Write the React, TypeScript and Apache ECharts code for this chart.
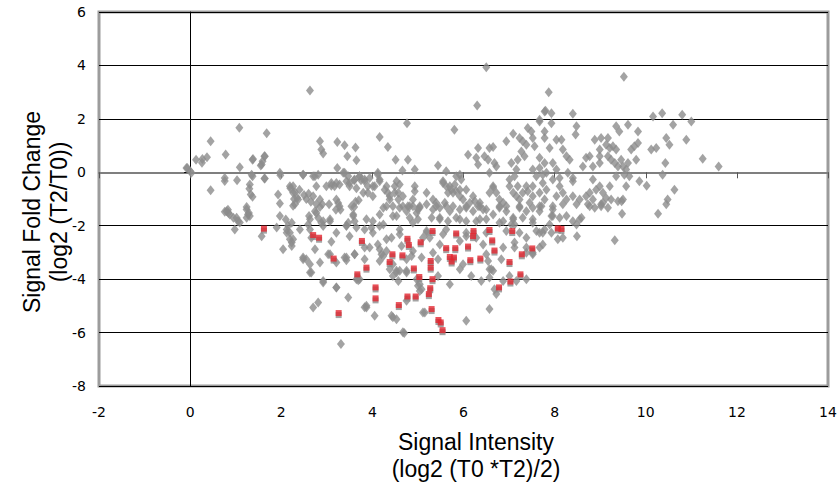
import React, { useEffect, useRef } from "react";
import * as echarts from "echarts";

const X_RANGE = [-2, 14];
const Y_RANGE = [-8, 6];
const TICK_STEP = 2;

const xTitle = "Signal Intensity\n(log2 (T0 *T2)/2)";
const yTitle = "Signal Fold Change\n(log2 (T2/T0))";

const grayPoints: number[][] = [
  [2.63,3.06],[1.08,1.67],[1.68,1.46],[0.45,1.16],[0.78,0.67],[0.13,0.47],[0.27,0.5],[0.37,0.56],[0.26,0.36],[1.38,0.5],[1.64,0.6],[1.59,0.41],[1.55,0.25],[1.09,0.19],[2.85,1.16],[2.88,0.85],[2.92,0.7],[3.23,1.13],[3.39,1.01],[3.63,0.93],[3.45,0.6],[3.65,0.45],[-0.06,0.16],[0.03,-0.02],[0.76,-0.21],[0.76,-0.33],[1.03,-0.3],[0.45,-0.67],[1.37,-0.15],[1.31,-0.46],[1.3,-0.62],[1.33,-0.83],[1.37,-0.92],[1.64,-0.23],[1.98,-0.11],[2.48,-0.09],[2.74,-0.15],[2.81,-0.09],[3.23,0.16],[3.36,-0.02],[3.47,-0.15],[3.5,-0.4],[2.2,-0.6],[2.4,-0.65],[2.5,-0.85],[2.55,-1.0],[2.35,-0.95],[2.6,-0.8],[1.93,-0.83],[1.97,-1.17],[2.7,-0.9],[2.65,-1.1],[2.9,-1.2],[3.05,-1.2],[2.85,-1.3],[3.25,-1.15],[3.2,-1.4],[3.3,-1.4],[3.1,-0.5],[3.21,-0.4],[3.28,-0.46],[3.6,-0.3],[3.65,-0.6],[3.75,-0.3],[3.63,-1.1],[3.6,-1.3],[3.7,-1.05],[1.24,-1.3],[0.83,-1.4],
  [0.8,-1.46],[0.87,-1.58],[1.02,-1.7],[1.05,-1.83],[1.09,-1.88],[1.24,-1.39],[1.27,-1.58],[1.24,-1.7],[0.98,-2.14],[1.35,-0.09],[1.37,0.47],[1.57,0.29],[1.63,0.6],[1.63,-0.23],[2.1,-1.77],[2.15,-2.0],[2.19,-2.26],[2.19,-2.51],[2.23,-2.76],[1.9,-2.07],[1.57,-2.39],[2.26,-0.52],[2.3,-0.75],[2.28,-1.0],[2.26,-1.25],[0,0.04],[-0.08,0.16],
  [0.84,-1.52],[0.76,-1.48],[0.95,-1.7],[1.31,-1.64],[1.29,-1.52],[2.04,-2.88],[2.3,-1.2],[2.61,-1.64],[2.59,-1.95],[2.63,-2.14],[2.66,-2.45],[2.74,-1.46],[2.77,-1.2],[2.81,-1.7],[2.88,-1.89],[2.92,-1.83],[3.07,-1.83],[3.1,-2.6],[3.03,-3.07],[2.74,-2.88],[2.48,-3.19],[2.55,-3.26],[2.63,-3.44],[2.66,-3.75],[2.85,-3.38],[3.21,-3.38],[3.39,-3.19],[3.43,-3.29],[3.47,-1.89],[3.5,-2.39],[3.43,-1.99],[3.58,-1.58],[3.54,-1.27],[3.61,-1.83],[3.65,-2.07],[3.61,-3.07],[3.69,-4.04],[2.92,-4.13],[3.21,-4.31],[3.47,-4.69],[2.81,-4.87],[2.7,-5.06],[3.31,-6.43],[3.83,-5.05],[2.12,-2.14],[2.23,-2.63],[2.23,-1.89],
  [6.5,3.93],[6.3,2.5],[4.76,1.84],[5.8,1.59],[4.16,1.32],[4.34,0.95],[4.51,0.47],[4.78,0.47],[4.66,0.07],[4.93,0.1],[5.44,0.25],[5.62,0.04],[5.84,-0.15],[5.92,-0.09],[5.95,-0.27],[6.1,0.66],[6.32,0.91],[6.28,0.54],[6.32,0.29],[6.46,0.6],[6.54,0.47],[6.57,0.91],[6.65,0.95],[6.72,0.22],[6.57,-0.02],[6.68,0.35],[6.94,1.16],[7.09,1.44],[7.23,1.28],[7.3,1.16],[7.38,1.03],[7.41,1.66],[7.49,1.53],[7.52,1.28],[7.56,0.97],[7.67,1.9],[7.78,2.28],[7.27,0.78],[7.19,0.47],[7.34,0.6],[7.05,0.35],[7.16,0.1],[7.52,0.1],[7.67,0.16],[7.74,-0.09],[3.72,-0.15],[3.83,-0.27],[3.94,-0.21],[3.8,-0.77],[3.9,-0.77],[4.01,-0.9],[4.05,-0.52],[4.12,-0.09],[4.16,-0.27],[4.27,-0.65],[4.34,-0.77],[4.38,-1.02],[4.31,-1.27],[4.53,-0.34],[4.6,-0.46],[4.49,-0.77],[4.57,-1.02],[4.67,-1.27],[4.82,-1.27],[4.93,-0.52],[4.93,-0.71],[5.04,-1.27],[5.4,-1.14],[5.55,-0.4],[5.62,-0.52],[5.66,-0.77],[5.73,-0.65],[5.81,-0.46],[5.84,-0.71],[5.92,-0.9],[5.59,-1.14],[5.77,-1.27],[6.06,-0.65],[6.14,-1.14],[6.25,-1.08],[6.32,-1.27],[6.65,-0.58],[6.72,-0.77],[6.87,-1.14],[6.79,-1.27],[7.01,-0.52],[7.12,-0.15],[7.19,-0.52],[7.16,-0.9],[7.3,-0.77],[7.41,-0.71],[7.52,-0.52],[7.6,-0.15],[7.67,-0.77],[7.78,-1.02],[7.45,-1.14],[7.23,-1.27],
  [9.52,3.58],[7.87,3.0],[7.8,2.3],[7.93,2.21],[7.93,1.84],[7.67,1.97],[8.4,2.19],[7.78,1.53],[7.78,1.28],[8.04,1.22],[8.15,1.22],[7.89,0.91],[8.48,1.72],[8.46,1.41],[7.67,0.54],[7.78,0.35],[7.82,-0.02],[7.96,0.35],[8.04,0.1],[8.11,-0.21],[8.18,0.85],[8.26,0.6],[8.33,0.47],[8.29,-0.02],[8.4,-0.21],[7.74,-0.4],[8.62,0.22],[8.69,0.54],[8.77,0.6],[8.84,0.22],[8.88,1.22],[9.02,1.28],[9.17,1.28],[8.99,0.85],[8.99,0.6],[9.13,1.03],[9.21,0.91],[9.28,0.97],[9.35,0.85],[9.17,0.6],[9.24,0.47],[9.32,0.35],[9.39,0.22],[9.46,0.47],[9.5,0.22],[9.57,0.1],[9.61,0.35],[9.68,0.85],[9.75,0.97],[9.83,1.1],[9.79,0.47],[9.35,-0.15],[9.53,-0.09],[9.64,-0.15],[8.99,0.35],[8.84,-0.27],[9.35,1.72],[9.42,1.53],[9.61,1.78],[9.83,1.53],[10.16,2.09],[10.36,2.21],[10.6,1.78],[11.0,1.9],[10.8,2.15],[10.45,1.28],[10.52,1.03],[10.89,1.22],[10.12,0.85],[10.23,0.91],[11.25,0.51],[11.6,0.22],[10.43,0.35],[10.37,-0.09],[9.86,-0.34],[10.02,-0.5],[9.57,-0.52],[10.63,-0.65],[10.48,-1.02],[10.45,-1.2],[8.04,-0.9],[8.18,-0.77],[8.26,-1.02],[8.4,-0.9],[8.11,-0.52],[8.4,-0.34],[8.55,-1.02],[8.69,-0.9],[8.77,-0.77],[8.84,-1.02],[8.91,-0.65],[8.99,-0.52],[9.06,-0.77],[9.13,-0.96],[9.21,-0.52],[9.24,-1.02],[9.02,-1.27],[8.73,-1.2],[9.39,-1.08],[9.5,-1.02],[7.71,-1.27],[7.96,-1.27],[9.06,-1.14],[9.47,-1.08],
  [7.96,-1.39],[7.93,-1.64],[8.11,-1.7],[8.26,-1.64],[8.18,-1.2],[8.4,-1.83],[8.48,-1.95],[8.55,-1.76],[8.59,-1.7],[8.48,-1.2],[7.89,-1.95],[7.93,-2.26],[8.07,-2.51],[8.18,-2.45],[8.49,-2.39],[9.32,-2.54],[8.77,-1.27],[8.88,-1.33],[9.02,-1.2],[9.17,-1.33],[9.48,-1.55],[10.27,-1.55],[7.67,-2.82],[7.67,-2.26],[7.78,-2.14],
  [4.24,-1.33],[4.45,-1.27],[4.6,-1.33],[4.75,-1.46],[4.89,-1.27],[5.0,-1.39],[5.19,-1.2],[5.33,-1.39],[5.48,-1.33],[5.62,-1.27],[5.7,-1.46],[5.92,-1.39],[6.06,-1.33],[6.21,-1.46],[6.36,-1.27],[6.5,-1.39],[6.65,-1.58],[6.79,-1.33],[6.94,-1.46],[7.09,-1.7],[7.23,-1.33],[7.38,-1.46],[7.52,-1.33],[7.67,-1.46],[4.16,-1.58],[4.01,-1.83],[4.24,-1.95],[4.53,-1.64],[4.82,-1.7],[5.0,-1.76],[5.3,-1.7],[5.48,-1.7],[5.66,-1.83],[5.84,-1.7],[6.06,-1.83],[6.28,-1.83],[6.5,-1.76],[6.87,-1.83],[7.05,-1.95],[7.3,-1.7],[7.52,-1.76],
  [3.83,-2.14],[3.98,-2.08],[3.94,-2.82],[4.12,-2.7],[4.2,-3.07],[4.31,-2.95],[4.42,-2.45],[4.6,-2.32],[4.64,-2.76],[4.89,-2.95],[5.11,-2.45],[5.19,-2.2],[5.26,-2.45],[5.48,-2.7],[5.55,-2.32],[5.92,-2.57],[6.06,-2.39],[6.28,-2.45],[6.43,-2.7],[6.5,-3.07],[6.65,-3.69],[6.87,-2.82],[6.94,-2.2],[7.12,-1.95],[7.38,-2.45],[7.38,-2.82],[7.52,-3.07],[7.6,-2.2],[7.74,-2.7],[3.83,-3.26],[4.16,-3.32],[4.45,-3.44],[4.6,-3.69],[4.75,-3.26],[4.86,-3.13],[5.08,-3.19],[5.44,-3.26],[5.99,-3.44],[6.54,-3.32],[6.61,-3.63],[6.83,-3.26],[7.12,-2.82],[5.7,-4.19],[6.39,-4.07],[6.57,-3.94],[6.87,-4.07],[7.16,-4.07],[7.38,-4.0],[6.72,-4.56],[6.68,-4.38],[3.87,-5.0],[4.05,-5.37],[4.45,-5.43],[4.53,-5.5],[5.15,-5.25],[6.06,-5.56],[6.57,-5.12],[4.67,-5.99],[4.97,-4.0],[5.04,-4.19],[5.08,-4.38],[4.45,-3.88],[4.53,-3.69],[3.72,-4.0],[4.75,-3.69],
  [1.97,-0.02],[2.19,-0.52],[2.26,-0.77],[2.37,-1.02],[2.48,-0.09],[2.7,-0.15],[2.77,-0.52],[2.85,-1.02],[2.99,-0.52],[3.1,-0.4],[3.17,-0.52],[3.21,-1.02],[3.28,-1.27],[3.39,-0.02],[3.43,-0.34],[3.5,-0.52],[3.61,-0.27],[3.72,-0.15],[3.83,-0.34],[3.9,-0.52],[4.01,-0.52],[4.12,-0.02],[4.16,-0.34],[4.31,-0.52],[4.38,-0.9],[4.49,-0.52],[4.57,-0.77],[4.67,-0.9],[4.78,-1.27],[4.89,-1.02],[4.97,-1.52],[5.04,-1.33],[5.19,-0.77],[5.33,-1.02],[5.4,-1.27],[5.55,-0.34],[5.7,-0.52],[5.77,-0.77],[5.92,-0.65],[5.99,-1.02],[6.06,-1.27],[6.21,-0.9],[6.36,-1.14],[6.43,-1.39],[6.57,-0.77],[6.65,-0.52],[6.79,-1.02],[6.94,-1.27],[7.01,-0.27],[7.09,-0.77],[7.23,-1.02],[7.38,-0.52],[7.52,-0.9],[7.67,-1.27],[7.82,-0.65],[7.96,-0.27],
  [1.97,-1.64],[2.12,-2.26],[2.26,-2.51],[2.41,-2.14],[2.63,-1.76],[2.77,-1.52],[2.92,-2.01],[3.07,-1.76],[3.21,-2.26],[3.43,-2.01],[3.58,-1.64],[3.87,-1.76],[4.01,-2.26],[4.16,-2.01],[4.31,-2.51],[4.45,-1.64],[4.6,-2.14],[4.89,-1.89],[5.19,-2.26],[5.48,-1.76],[5.62,-2.14],[5.92,-1.76],[6.06,-2.26],[6.36,-1.76],[6.5,-2.26],[6.79,-1.89],[7.09,-1.76],[7.23,-2.26],[7.52,-1.89],[7.74,-2.26],[7.96,-1.64],
  [2.48,-3.26],[2.63,-3.75],[2.92,-4.07],[3.07,-3.07],[3.21,-4.31],[3.43,-3.19],[3.61,-3.07],[3.65,-4.0],[3.83,-2.82],[3.87,-5.06],[4.16,-2.88],[4.24,-3.13],[4.38,-3.63],[4.42,-5.37],[4.53,-3.75],[4.57,-4.07],[4.75,-3.75],[4.75,-4.81],[5.0,-4.25],[5.04,-4.44],[5.11,-5.25],[5.33,-3.01],[5.44,-3.88],[5.92,-3.63],[6.17,-3.88],[6.57,-3.63],[7.12,-2.63],[7.38,-3.01],[7.52,-3.01],[4.7,-6.02],[7.01,-3.88]
];

const redPoints: number[][] = [
  [5.32,-2.2],[4.77,-2.49],[4.8,-2.72],[5.06,-2.62],[3.77,-2.57],[4.44,-3.07],[4.66,-3.11],[4.38,-3.36],[3.87,-3.57],[3.67,-3.82],[4.91,-3.6],[5.28,-3.32],[5.28,-3.57],[5.03,-3.92],[5.32,-4.0],[5.27,-4.34],[5.24,-4.56],[4.07,-4.31],[4.07,-4.72],[4.77,-4.65],[4.95,-4.65],[4.58,-4.97],[5.3,-5.12],[5.45,-5.53],[5.5,-5.62],[5.54,-5.91],[5.84,-2.29],[6.22,-2.2],[6.21,-2.39],[6.57,-2.16],[7.07,-2.2],[5.62,-2.84],[5.82,-2.84],[6.1,-2.78],[6.63,-2.55],[6.68,-2.93],[5.7,-3.17],[5.79,-3.19],[5.74,-3.34],[6.15,-3.29],[6.37,-3.23],[7.28,-3.07],[7.51,-2.85],[7.01,-3.36],[7.25,-3.82],[7.03,-4.09],[6.78,-4.31],[8.07,-2.1],[8.15,-2.12],[1.62,-2.11],[2.7,-2.35],[2.83,-2.45],[3.15,-3.23],[3.26,-5.27]
];

export default function App() {
  const ref = useRef<HTMLDivElement>(null);
  useEffect(() => {
    if (!ref.current) return;
    const chart = echarts.init(ref.current, undefined, { renderer: "svg" });
    const tickFont = { fontFamily: "DejaVu Sans", fontSize: 14, color: "#000" };
    chart.setOption({
      animation: false,
      backgroundColor: "#fff",
      grid: {
        left: 99, right: 12, top: 12, bottom: 105,
        show: true, borderColor: "#9c9c9c", borderWidth: 3,
        containLabel: false, outerBoundsMode: "none",
      },
      xAxis: [
        {
          type: "value", position: "top", min: X_RANGE[0], max: X_RANGE[1], interval: TICK_STEP,
          axisLine: { show: true, onZero: true, lineStyle: { color: "#7f7f7f", width: 2 } },
          axisTick: { show: true, inside: true, length: 6, lineStyle: { color: "#555", width: 1 } },
          axisLabel: { show: false },
          splitLine: { show: false },
        },
        {
          type: "value", position: "bottom", min: X_RANGE[0], max: X_RANGE[1], interval: TICK_STEP,
          axisLine: { show: false, onZero: false },
          axisTick: { show: false },
          axisLabel: { ...tickFont, margin: 19, showMinLabel: true, showMaxLabel: true },
          splitLine: { show: false },
        },
      ],
      yAxis: {
        type: "value", min: Y_RANGE[0], max: Y_RANGE[1], interval: TICK_STEP,
        axisLine: { show: true, onZero: true, lineStyle: { color: "#000", width: 1 } },
        axisTick: { show: true, length: 6, lineStyle: { color: "#000", width: 1 } },
        axisLabel: { ...tickFont, margin: 13 },
        splitLine: { show: true, lineStyle: { color: "#000", width: 1 } },
      },
      graphic: [
        {
          type: "text", x: 476, y: 455, z: 10,
          style: {
            text: xTitle, textAlign: "center", textVerticalAlign: "middle",
            fontFamily: "Liberation Sans", fontSize: 23, lineHeight: 27, fill: "#000",
          },
        },
        {
          type: "text", x: 45, y: 212, rotation: Math.PI / 2, z: 10,
          style: {
            text: yTitle, textAlign: "center", textVerticalAlign: "middle",
            fontFamily: "Liberation Sans", fontSize: 23, lineHeight: 27, fill: "#000",
          },
        },
      ],
      series: [
        {
          type: "scatter", data: grayPoints, symbol: "diamond", symbolSize: [8, 10],
          itemStyle: { color: "#8c8c8c" }, z: 2,
        },
        {
          type: "scatter", data: redPoints, symbol: "rect", symbolSize: [6, 6], symbolOffset: [0, 2],
          itemStyle: { color: "#8c8c8c" }, z: 3,
        },
        {
          type: "scatter", data: redPoints, symbol: "rect", symbolSize: [6, 6],
          itemStyle: { color: "#e3262f" }, z: 4,
        },
      ],
    });
    return () => chart.dispose();
  }, []);
  return <div ref={ref} style={{ position: "fixed", left: 0, top: 0, width: 840, height: 491 }} />;
}
